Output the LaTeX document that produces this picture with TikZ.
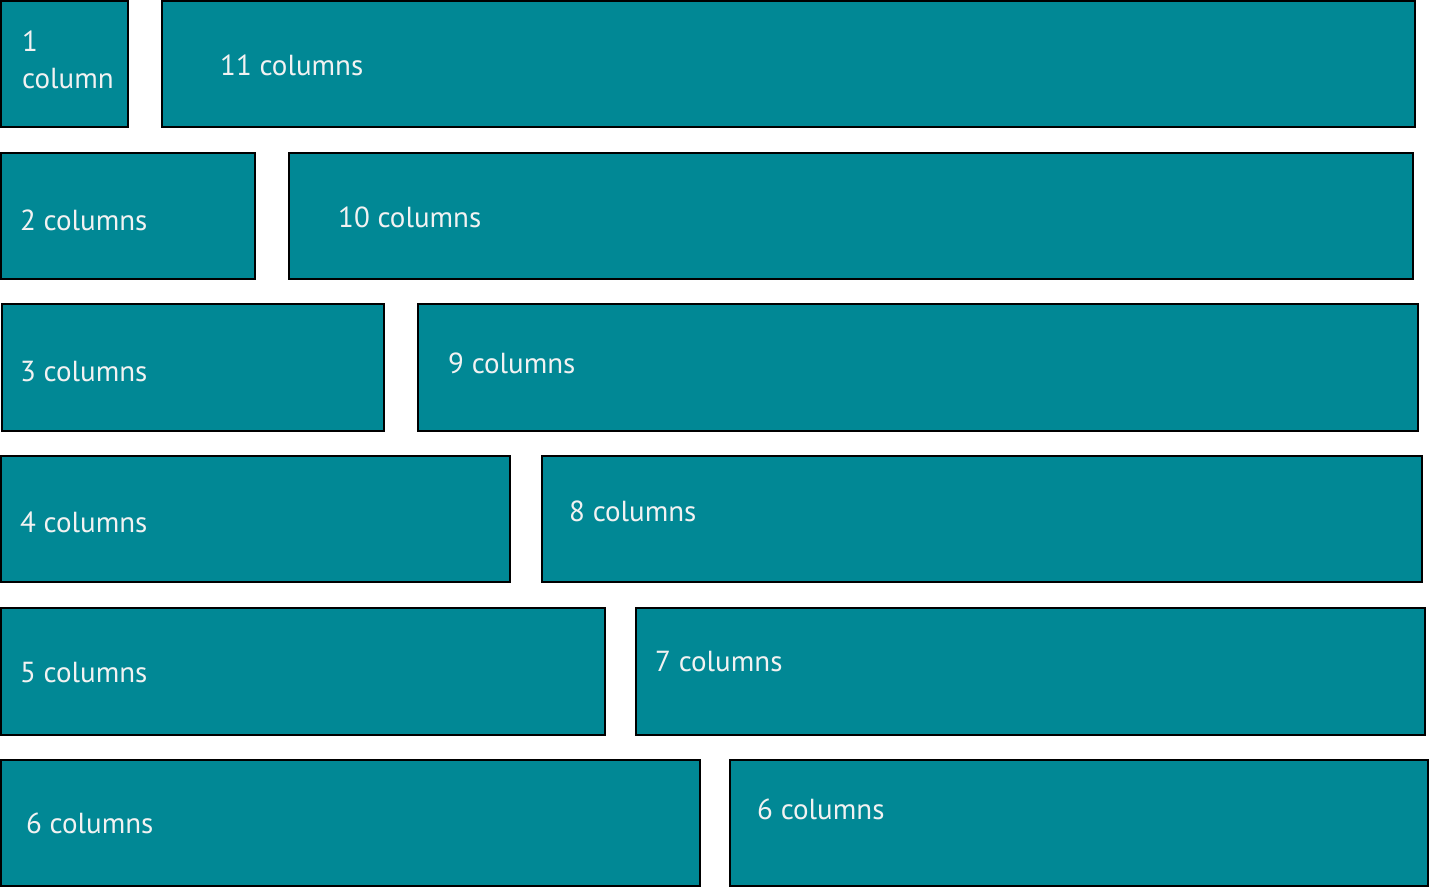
\documentclass[tikz,border=0pt]{standalone}
\usepackage{fontspec}
\setmainfont{PT Sans}
\definecolor{teal1}{HTML}{018895}
\definecolor{txt}{HTML}{F2F2F2}
\tikzset{
  box/.style={draw=black, line width=1.5pt, fill=teal1},
  lbl/.style={anchor=base west, inner sep=0pt, text=txt, font=\fontsize{29}{36}\selectfont}
}
\begin{document}
\begin{tikzpicture}[x=1pt,y=-1pt]
\useasboundingbox (0,0) rectangle (1430,888);
% row 1
\draw[box] (1,1) rectangle (128,127);
\draw[box] (162,1) rectangle (1415,127);
\node[lbl] (a1) at (22,52) {1};
\node[lbl] (a1b) at (22,89) {column};
\node[lbl] (b1) at (220,76) {11 columns};
% row 2
\draw[box] (1,153) rectangle (255,279);
\draw[box] (289,153) rectangle (1413,279);
\node[lbl] (a2) at (20,230) {2 columns};
\node[lbl] (b2) at (338,227) {10 columns};
% row 3
\draw[box] (2,304) rectangle (384,431);
\draw[box] (418,304) rectangle (1418,431);
\node[lbl] (a3) at (20,381) {3 columns};
\node[lbl] (b3) at (448,373) {9 columns};
% row 4
\draw[box] (1,456) rectangle (510,582);
\draw[box] (542,456) rectangle (1422,582);
\node[lbl] (a4) at (20,532) {4 columns};
\node[lbl] (b4) at (569,521) {8 columns};
% row 5
\draw[box] (1,608) rectangle (605,735);
\draw[box] (636,608) rectangle (1425,735);
\node[lbl] (a5) at (20,682) {5 columns};
\node[lbl] (b5) at (655,671) {7 columns};
% row 6
\draw[box] (1,760) rectangle (700,886);
\draw[box] (730,760) rectangle (1428,886);
\node[lbl] (a6) at (26,833) {6 columns};
\node[lbl] (b6) at (757,819) {6 columns};
\end{tikzpicture}
\end{document}
